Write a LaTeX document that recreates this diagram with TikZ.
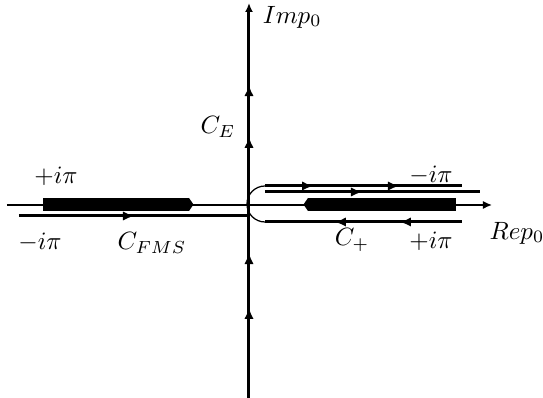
\documentclass[tikz,border=0pt]{standalone}
\usetikzlibrary{arrows.meta,decorations.markings}
\begin{document}
\begin{tikzpicture}[x=.4pt,y=-.4pt,>={Latex[length=3.6pt,width=3.2pt]},
  arr/.style={postaction={decorate,decoration={markings,mark=at position #1 with {\arrow{Latex[length=4.4pt,width=3.8pt]}}}}},
  contour/.style={line width=1.2pt},
  cut/.style={fill=black}]
\useasboundingbox (0,0) rectangle (543,398);
% axes
\coordinate (xl) at (7,205);\coordinate (xr) at (492,205);
\coordinate (yb) at (249,398);\coordinate (yt) at (249,3);
\draw[->,line width=.6pt](xl)--(xr);
\draw[->,contour,arr=.228,arr=.367,arr=.661,arr=.792](yb)--(yt);
% cuts
\fill[cut](43,198)rectangle(189,211);\fill[cut](189,198)--(193.5,204.5)--(189,211)--cycle;
\fill[cut](308,198)rectangle(456,211);\fill[cut](308,198)--(303.5,204.5)--(308,211)--cycle;
% contours
\coordinate (fa) at (19,216);\coordinate (fb) at (249,216);
\draw[contour,arr=.5](fa)--(fb);
\coordinate (ua) at (265,186);\coordinate (ub) at (462,186);
\coordinate (la) at (265,222);\coordinate (lb) at (462,222);
\coordinate (sa) at (265,192);\coordinate (sb) at (480,192);
\draw[contour,arr=.244,arr=.68](ua)--(ub);
\draw[contour,arr=.315,arr=.645](lb)--(la);
\draw[contour,arr=.451](sa)--(sb);
\draw[line width=.5pt](ua)arc[start angle=270,end angle=90,radius=18];
% labels
\node[anchor=west](im)at(254,17){$Imp_0$};
\node(ce)at(218,127){$C_E$};
\node(re)at(517,233){$Rep_0$};
\node(lp)at(56,176){$+i\pi$};\node(lm)at(40,242){$-i\pi$};
\node(cf)at(152,243){$C_{FMS}$};
\node(rm)at(431,175){$-i\pi$};\node(rp)at(431,241){$+i\pi$};
\node(cp)at(352,240){$C_+$};
\end{tikzpicture}
\end{document}
